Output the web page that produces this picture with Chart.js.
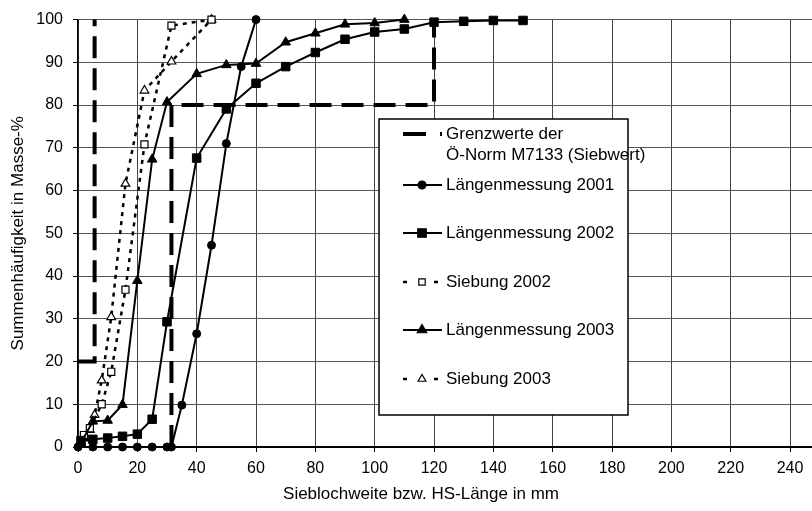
<!DOCTYPE html>
<html lang="de">
<head>
<meta charset="utf-8">
<title>Summenhäufigkeit</title>
<script src="https://cdn.jsdelivr.net/npm/chart.js@4.4.1/dist/chart.umd.min.js"></script>
<style>
  html, body { margin: 0; padding: 0; background: #fff; }
  #wrap { width: 812px; height: 511px; position: relative; }
</style>
</head>
<body>
<div id="wrap"><canvas id="chart"></canvas></div>
<script>
// Sieblochweite bzw. HS-Länge (mm) und Summenhäufigkeit (Masse-%)
const xL2001 = [0, 5, 10, 15, 20, 25, 30, 31.5, 35, 40, 45, 50, 55, 60];
const yL2001 = [0, 0, 0, 0, 0, 0, 0, 0, 9.8, 26.5, 47.2, 71, 89, 100];

const xL2002 = [1, 5, 10, 15, 20, 25, 30, 40, 50, 60, 70, 80, 90, 100, 110, 120, 130, 140, 150];
const yL2002 = [1.5, 1.8, 2.1, 2.5, 3, 6.5, 29.3, 67.6, 79.1, 85.1, 89, 92.3, 95.4, 97.1, 97.8, 99.4, 99.6, 99.8, 99.8];

const xS2002 = [1, 2, 4, 8, 11.2, 16, 22.4, 31.5, 45];
const yS2002 = [1, 2.8, 4.4, 10, 17.6, 36.8, 70.8, 98.6, 100];

const xL2003 = [1, 5, 10, 15, 20, 25, 30, 40, 50, 60, 70, 80, 90, 100, 110];
const yL2003 = [1, 6, 6.2, 9.9, 38.9, 67.3, 80.7, 87.3, 89.4, 89.7, 94.7, 96.8, 98.9, 99.2, 100];

const xS2003 = [1, 2, 4, 5.6, 8, 11.2, 16, 22.4, 31.5, 45];
const yS2003 = [0.5, 2, 4, 7.5, 15.6, 30.4, 61.6, 83.4, 90.2, 100];

// Grenzwerte der Ö-Norm M7133 (Siebwert)
const xGrenzeFein = [0, 5.6, 5.6];
const yGrenzeFein = [20, 20, 100];
const xGrenzeGrob = [31.5, 31.5, 120, 120];
const yGrenzeGrob = [0, 80, 80, 100];

const xTickStep = 20;
const yTickStep = 10;

const FONT = '"Liberation Sans", Arial, sans-serif';
Chart.defaults.font.family = FONT;
Chart.defaults.color = '#000';

const pts = (xs, ys) => xs.map((x, i) => ({ x: x, y: ys[i] }));

const solid = { borderColor: '#000', borderWidth: 2, pointBorderColor: '#000', pointBorderWidth: 1, clip: false };
const dotted = { borderColor: '#000', borderWidth: 2.5, borderDash: [4, 5], pointBorderColor: '#000',
                 pointBackgroundColor: '#fff', pointBorderWidth: 1.2, clip: false };
const grenze = { borderColor: '#000', borderWidth: 4, borderDash: [22, 10], pointRadius: 0, clip: false };

const datasets = [
  { label: 'Längenmessung 2001', data: pts(xL2001, yL2001), ...solid,
    pointStyle: 'circle', pointRadius: 4, pointBackgroundColor: '#000' },
  { label: 'Längenmessung 2002', data: pts(xL2002, yL2002), ...solid,
    pointStyle: 'rect', pointRadius: 6, pointBackgroundColor: '#000' },
  { label: 'Längenmessung 2003', data: pts(xL2003, yL2003), ...solid,
    pointStyle: 'triangle', pointRadius: 5.5, pointBackgroundColor: '#000' },
  { label: 'Siebung 2002', data: pts(xS2002, yS2002), ...dotted, pointStyle: 'rect', pointRadius: 5 },
  { label: 'Siebung 2003', data: pts(xS2003, yS2003), ...dotted, pointStyle: 'triangle', pointRadius: 5 },
  { label: 'Grenzwerte', data: pts(xGrenzeFein, yGrenzeFein), ...grenze },
  { label: 'Grenzwerte', data: pts(xGrenzeGrob, yGrenzeGrob), ...grenze }
];

// Legende im Diagramm (Kasten rechts unten) und x-Achsentitel
const legendEntries = [
  { text: ['Grenzwerte der', 'Ö-Norm M7133 (Siebwert)'], type: 'grenze' },
  { text: ['Längenmessung 2001'], type: 'solid', style: 'circle', r: 4, fill: '#000' },
  { text: ['Längenmessung 2002'], type: 'solid', style: 'rect', r: 6, fill: '#000' },
  { text: ['Siebung 2002'], type: 'dotted', style: 'rect', r: 4.5, fill: '#fff' },
  { text: ['Längenmessung 2003'], type: 'solid', style: 'triangle', r: 5.5, fill: '#000' },
  { text: ['Siebung 2003'], type: 'dotted', style: 'triangle', r: 4.5, fill: '#fff' }
];

const extras = {
  id: 'extras',
  afterDraw(chart) {
    const ctx = chart.ctx;
    ctx.save();

    // x-Achsentitel
    ctx.fillStyle = '#000';
    ctx.font = '17px ' + FONT;
    ctx.textAlign = 'center';
    ctx.textBaseline = 'middle';
    ctx.fillText('Sieblochweite bzw. HS-Länge in mm', 421, 494);

    // Legendenkasten
    const box = { left: 379, top: 119, right: 628, bottom: 415 };
    ctx.fillStyle = '#fff';
    ctx.fillRect(box.left, box.top, box.right - box.left, box.bottom - box.top);
    ctx.strokeStyle = '#000';
    ctx.lineWidth = 1.5;
    ctx.strokeRect(box.left, box.top, box.right - box.left, box.bottom - box.top);

    const rows = [134, 185, 233, 282, 330, 379];
    const x0 = 403, x1 = 442, xm = 422, xt = 446;
    legendEntries.forEach((e, i) => {
      const y = rows[i];
      ctx.beginPath();
      ctx.strokeStyle = '#000';
      if (e.type === 'grenze') {
        ctx.lineWidth = 4;
        ctx.setLineDash([23, 14]);
      } else if (e.type === 'dotted') {
        ctx.lineWidth = 2.5;
        ctx.setLineDash([4, 27]);
      } else {
        ctx.lineWidth = 2;
        ctx.setLineDash([]);
      }
      ctx.moveTo(x0, y);
      ctx.lineTo(x1, y);
      ctx.stroke();
      ctx.setLineDash([]);

      if (e.style) {
        ctx.fillStyle = e.fill;
        ctx.strokeStyle = '#000';
        ctx.lineWidth = 1.2;
        Chart.helpers.drawPoint(ctx, { pointStyle: e.style, radius: e.r, rotation: 0, borderWidth: 1.2 }, xm, y);
      }

      ctx.fillStyle = '#000';
      ctx.font = '17px ' + FONT;
      ctx.textAlign = 'left';
      ctx.textBaseline = 'middle';
      e.text.forEach((t, k) => ctx.fillText(t, xt, y + k * 21));
    });

    ctx.restore();
  }
};

new Chart(document.getElementById('chart'), {
  type: 'line',
  data: { datasets: datasets },
  options: {
    responsive: true,
    maintainAspectRatio: false,
    animation: false,
    layout: { autoPadding: false, padding: { top: 18, right: 0, bottom: 0, left: 0 } },
    elements: { line: { tension: 0 } },
    plugins: {
      legend: { display: false },
      tooltip: { enabled: false }
    },
    scales: {
      x: {
        type: 'linear',
        min: 0,
        max: 247.4,
        afterBuildTicks: axis => { axis.ticks = axis.ticks.filter(t => t.value % xTickStep === 0); },
        afterFit: axis => {
          axis.height = 64;
          axis.paddingLeft = 0;
          axis.paddingRight = 0;
        },
        ticks: { stepSize: xTickStep, includeBounds: false, color: '#000', font: { size: 16 },
                 padding: 7, maxRotation: 0, autoSkip: false },
        grid: { color: '#444', lineWidth: 1, tickLength: 5, tickColor: '#000' },
        border: { color: '#000', width: 2 }
      },
      y: {
        type: 'linear',
        min: 0,
        max: 100,
        afterFit: axis => { axis.width = 78; },
        ticks: { stepSize: yTickStep, color: '#000', font: { size: 16 }, padding: 10 },
        grid: { color: '#555', lineWidth: 1, tickLength: 5, tickColor: '#000' },
        border: { color: '#000', width: 1.5 },
        title: {
          display: true,
          text: 'Summenhäufigkeit in Masse-%',
          color: '#000',
          font: { size: 17 },
          padding: { top: 8, bottom: 0 }
        }
      }
    }
  },
  plugins: [extras]
});
</script>
</body>
</html>
